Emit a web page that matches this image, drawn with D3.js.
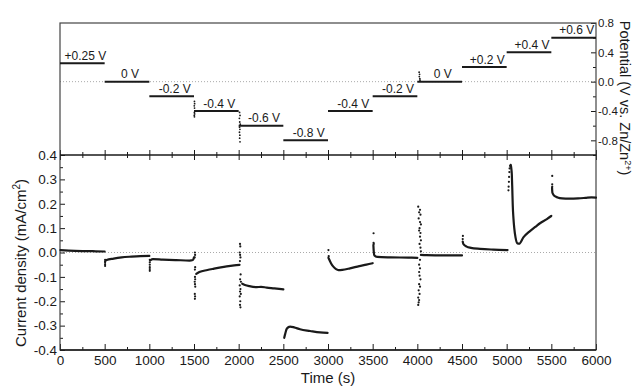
<!DOCTYPE html>
<html><head><meta charset="utf-8">
<script src="https://cdn.jsdelivr.net/npm/d3@7"></script>
<style>
body{margin:0;background:#fff;}
svg{display:block;font-family:"Liberation Sans",Arial,sans-serif;}
</style></head>
<body><svg id="c" width="636" height="388"></svg>
<script>
// ---------- DATA ----------
const stepStarts = [0,500,1000,1500,2000,2500,3000,3500,4000,4500,5000,5500];
const stepDuration = 500;
const potentialValues = [0.25,0,-0.2,-0.4,-0.6,-0.8,-0.4,-0.2,0,0.2,0.4,0.6];
const potentialLabels = ["+0.25 V","0 V","-0.2 V","-0.4 V","-0.6 V","-0.8 V","-0.4 V","-0.2 V","0 V","+0.2 V","+0.4 V","+0.6 V"];
const potentialNoise = [
  [1505,-0.27],[1507,-0.30],[1503,-0.33],[1506,-0.36],[1504,-0.42],[1507,-0.44],[1503,-0.46],[1505,-0.48],
  [2010,-0.42],[2015,-0.46],[2008,-0.50],[2012,-0.55],[2018,-0.58],[2010,-0.62],[2014,-0.65],[2009,-0.69],[2013,-0.73],[2011,-0.77],[2015,-0.82],
  [4020,0.13],[4025,0.10],[4022,0.07],[4028,0.04],[4030,0.02]
];
// current density segments (t in s, j in mA/cm2)
const seg1 = [[5,0.010],[100,0.008],[250,0.006],[400,0.005],[500,0.004]];
const seg2 = [[505,-0.036],[522,-0.031],[600,-0.025],[690,-0.020],[800,-0.017],[900,-0.015],[1000,-0.014]];
const seg3 = [[1010,-0.032],[1040,-0.027],[1150,-0.029],[1300,-0.031],[1450,-0.033],[1488,-0.031],[1500,-0.020]];
const seg4 = [[1525,-0.088],[1560,-0.080],[1650,-0.072],[1716,-0.067],[1800,-0.061],[1866,-0.057],[1950,-0.053],[2010,-0.051]];
const seg5 = [[2040,-0.128],[2070,-0.133],[2120,-0.138],[2202,-0.142],[2250,-0.141],[2314,-0.144],[2400,-0.147],[2500,-0.151]];
const seg6 = [[2510,-0.350],[2520,-0.335],[2540,-0.312],[2575,-0.304],[2620,-0.307],[2687,-0.315],[2800,-0.322],[2911,-0.328],[2995,-0.330]];
const seg7 = [[3005,-0.022],[3015,-0.030],[3035,-0.045],[3060,-0.058],[3090,-0.068],[3116,-0.072],[3160,-0.071],[3246,-0.065],[3350,-0.056],[3430,-0.050],[3500,-0.044]];
const seg8 = [[3508,0.030],[3512,0.005],[3520,-0.012],[3550,-0.018],[3700,-0.020],[3900,-0.021],[4000,-0.022]];
const seg9 = [[4040,-0.010],[4100,-0.011],[4300,-0.012],[4500,-0.012]];
const seg10 = [[4508,0.045],[4515,0.035],[4552,0.024],[4600,0.019],[4702,0.015],[4850,0.012],[5010,0.010]];
const seg11 = [[5045,0.360],[5052,0.345],[5058,0.318],[5063,0.260],[5068,0.195],[5076,0.140],[5085,0.100],[5100,0.060],[5119,0.038],[5140,0.036],[5187,0.062],[5261,0.088],[5320,0.105],[5373,0.120],[5450,0.137],[5500,0.150]];
const seg12 = [[5508,0.265],[5512,0.245],[5530,0.234],[5570,0.226],[5620,0.222],[5700,0.221],[5800,0.222],[5880,0.224],[5950,0.226],[6000,0.225]];
const currentSegments = [seg1,seg2,seg3,seg4,seg5,seg6,seg7,seg8,seg9,seg10,seg11,seg12];
const currentNoise = [
  [505,-0.030],[505,-0.040],[505,-0.048],[505,-0.055],
  [1005,-0.030],[1005,-0.040],[1005,-0.050],[1005,-0.060],[1005,-0.068],[1005,-0.075],
  [1510,0.000],[1512,-0.010],[1508,-0.020],[1513,-0.060],[1510,-0.070],[1511,-0.100],[1513,-0.110],[1508,-0.120],[1511,-0.130],[1514,-0.140],[1509,-0.170],[1512,-0.180],[1510,-0.190],
  [2015,0.035],[2018,0.025],[2012,0.000],[2016,-0.010],[2020,-0.020],[2014,-0.035],[2022,-0.090],[2016,-0.110],[2025,-0.120],[2012,-0.135],[2020,-0.150],[2015,-0.160],[2024,-0.170],[2012,-0.180],[2018,-0.200],[2015,-0.215],[2020,-0.225],
  [3005,0.010],[3008,-0.015],
  [3510,0.079],[3510,0.040],[3512,0.035],
  [4010,0.188],[4030,0.175],[4020,0.165],[4035,0.155],[4015,0.140],[4030,0.125],[4040,0.115],[4025,0.100],[4020,0.090],[4035,0.080],[4030,0.065],[4040,0.050],[4025,0.035],[4035,0.020],[4040,0.005],
  [4030,-0.030],[4020,-0.050],[4030,-0.065],[4020,-0.080],[4025,-0.095],[4035,-0.110],[4020,-0.130],[4030,-0.140],[4015,-0.155],[4025,-0.170],[4010,-0.185],[4020,-0.195],[4015,-0.205],[4010,-0.215],
  [4510,0.068],[4508,0.055],
  [5020,0.255],[5022,0.270],[5025,0.290],[5027,0.310],[5030,0.330],[5033,0.345],[5038,0.355],
  [5510,0.314],[5510,0.280],[5510,0.270]
];
const timeTicks = [0,500,1000,1500,2000,2500,3000,3500,4000,4500,5000,5500,6000];
const currentTicks = [-0.4,-0.3,-0.2,-0.1,0.0,0.1,0.2,0.3,0.4];
const potentialTicks = [-0.8,-0.4,0.0,0.4,0.8];

// ---------- LAYOUT ----------
const L = 60, R = 596, T = 23, M = 155, B = 350;
const svg = d3.select("#c");
const x = d3.scaleLinear().domain([0,6000]).range([L,R]);
const yP = d3.scaleLinear().domain([-1.0,0.8]).range([M,T]);
const yJ = d3.scaleLinear().domain([-0.4,0.4]).range([B,M]);
const ink = "#1a1a1a";

const minorTime = d3.range(250,6000,500);
const minorJ = d3.range(-0.35,0.4,0.1);
const minorP = [-1.0,-0.6,-0.2,0.2,0.6];

function style(g, fs){
  g.select(".domain").remove();
  g.selectAll("line").attr("stroke",ink).attr("stroke-width",1);
  g.selectAll("text").attr("fill",ink).attr("font-size",fs);
}
// zero dotted lines
svg.append("line").attr("x1",L).attr("x2",R).attr("y1",yP(0)).attr("y2",yP(0))
  .attr("stroke","#aaa").attr("stroke-width",1).attr("stroke-dasharray","1,2");
svg.append("line").attr("x1",L).attr("x2",R).attr("y1",yJ(0)).attr("y2",yJ(0))
  .attr("stroke","#aaa").attr("stroke-width",1).attr("stroke-dasharray","1,2");

// bottom axis
const gb = svg.append("g").attr("transform",`translate(0,${B})`)
  .call(d3.axisBottom(x).tickValues(timeTicks).tickSize(-6).tickSizeOuter(0).tickPadding(5).tickFormat(d3.format("d")));
style(gb,"13.5px");
const gbm = svg.append("g").attr("transform",`translate(0,${B})`)
  .call(d3.axisBottom(x).tickValues(minorTime).tickSize(-3).tickFormat(""));
style(gbm,"1px");
// divider ticks
[["b",-5,timeTicks],["b",-3,minorTime],["t",-5,timeTicks],["t",-3,minorTime]].forEach(([s,sz,tv])=>{
  const ax = s==="b" ? d3.axisBottom(x) : d3.axisTop(x);
  const g = svg.append("g").attr("transform",`translate(0,${M})`).call(ax.tickValues(tv).tickSize(sz).tickFormat(""));
  style(g,"1px");
});
// left axis (current)
const gl = svg.append("g").attr("transform",`translate(${L},0)`)
  .call(d3.axisLeft(yJ).tickValues(currentTicks).tickSize(-5).tickSizeOuter(0).tickPadding(3).tickFormat(d3.format(".1f")));
style(gl,"13.5px");
const glm = svg.append("g").attr("transform",`translate(${L},0)`)
  .call(d3.axisLeft(yJ).tickValues(minorJ).tickSize(-3).tickFormat(""));
style(glm,"1px");
// right axis (potential)
const gr = svg.append("g").attr("transform",`translate(${R},0)`)
  .call(d3.axisRight(yP).tickValues(potentialTicks).tickSize(-5).tickSizeOuter(0).tickPadding(2).tickFormat(d3.format(".1f")));
style(gr,"11.5px");
const grm = svg.append("g").attr("transform",`translate(${R},0)`)
  .call(d3.axisRight(yP).tickValues(minorP).tickSize(-3).tickFormat(""));
style(grm,"1px");
gl.selectAll("text").text(d=>d3.format(".1f")(d).replace("−","-"));
gr.selectAll("text").text(d=>d3.format(".1f")(d).replace("−","-"));

// frame
svg.append("rect").attr("x",L).attr("y",T).attr("width",R-L).attr("height",B-T)
  .attr("fill","none").attr("stroke","#444").attr("stroke-width",1.2);
svg.append("line").attr("x1",L).attr("x2",R).attr("y1",M).attr("y2",M).attr("stroke",ink).attr("stroke-width",1.6);
svg.append("line").attr("x1",L).attr("x2",R).attr("y1",B).attr("y2",B).attr("stroke",ink).attr("stroke-width",1.4);

// potential steps
svg.append("g").selectAll("line").data(stepStarts).join("line")
  .attr("x1",d=>x(d)).attr("x2",d=>x(d+stepDuration))
  .attr("y1",(d,i)=>yP(potentialValues[i])).attr("y2",(d,i)=>yP(potentialValues[i]))
  .attr("stroke",ink).attr("stroke-width",2);
svg.append("g").selectAll("text").data(stepStarts).join("text")
  .attr("x",d=>x(d+stepDuration/2)+3).attr("y",(d,i)=>yP(potentialValues[i])-3.5)
  .attr("text-anchor","middle").attr("font-size","12px").attr("fill",ink)
  .text((d,i)=>potentialLabels[i]);
svg.append("g").selectAll("circle").data(potentialNoise).join("circle")
  .attr("cx",d=>x(d[0])).attr("cy",d=>yP(d[1])).attr("r",0.9).attr("fill",ink);

// current density
const line = d3.line().x(d=>x(d[0])).y(d=>yJ(d[1])).curve(d3.curveMonotoneX);
svg.append("g").selectAll("path").data(currentSegments).join("path")
  .attr("d",line).attr("fill","none").attr("stroke",ink).attr("stroke-width",2.2)
  .attr("stroke-linejoin","round").attr("stroke-linecap","round");
svg.append("g").selectAll("circle").data(currentNoise).join("circle")
  .attr("cx",d=>x(d[0])).attr("cy",d=>yJ(d[1])).attr("r",1.1).attr("fill",ink);

// titles
svg.append("text").attr("x",(L+R)/2).attr("y",383).attr("text-anchor","middle")
  .attr("font-size","15px").attr("fill",ink).text("Time (s)");
const yt = svg.append("text").attr("transform","translate(26,263) rotate(-90)")
  .attr("text-anchor","middle").attr("font-size","15px").attr("fill",ink);
yt.append("tspan").text("Current density (mA/cm");
yt.append("tspan").attr("font-size","10px").attr("dy",-6).text("2");
yt.append("tspan").attr("dy",6).text(")");
const pt = svg.append("text").attr("transform","translate(620,98) rotate(90)")
  .attr("text-anchor","middle").attr("font-size","14.5px").attr("fill",ink);
pt.append("tspan").text("Potential (V vs. Zn/Zn");
pt.append("tspan").attr("font-size","9px").attr("dy",-5).text("2+");
pt.append("tspan").attr("dy",5).text(")");
</script></body></html>
